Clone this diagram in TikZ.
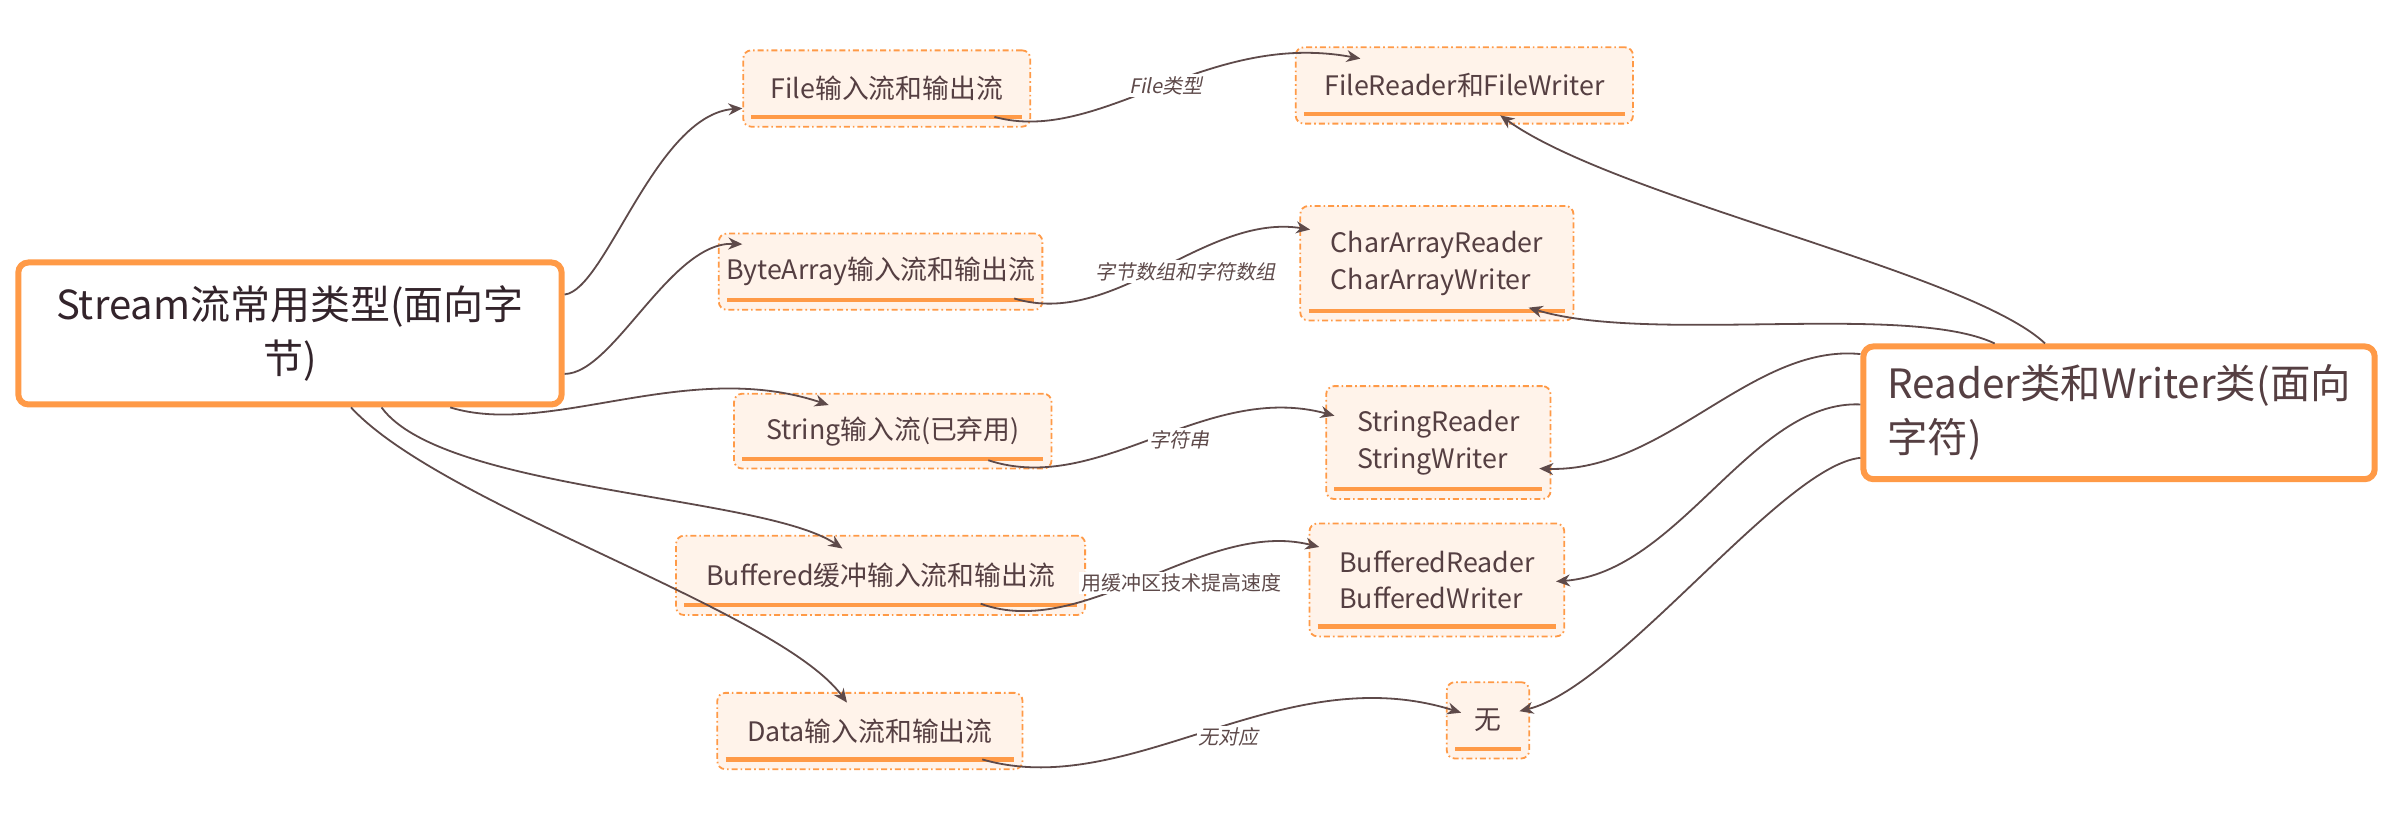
\documentclass[tikz,border=0pt]{standalone}
\usepackage{fontspec}
\setmainfont{Noto Sans CJK SC}
\newfontfamily\lblit[FakeSlant=0.2]{Noto Sans CJK SC}
\usetikzlibrary{arrows.meta}
\definecolor{org}{HTML}{FF9A47}
\definecolor{peach}{HTML}{FFF3EA}
\definecolor{lnk}{HTML}{5E4A4A}
\definecolor{txt}{HTML}{553F42}
\definecolor{dtxt}{HTML}{33242B}
\begin{document}
\begin{tikzpicture}[x=0.763pt, y=-0.763pt,
  sz/.style 2 args={minimum width=#1*0.763pt, minimum height=#2*0.763pt},
  mainbox/.style={draw=org, line width=3pt, rounded corners=5pt, fill=white, inner sep=0pt},
  childbox/.style={draw=org, line width=0.9pt, dash pattern=on 3pt off 1.5pt on 0.8pt off 1.5pt, rounded corners=4pt, fill=peach, inner sep=0pt, text=txt, font=\fontsize{13.4}{18.3}\selectfont, align=left},
  uline/.style={draw=org, line width=2.2pt},
  conn/.style={draw=lnk, line width=0.9pt, -{Stealth[length=7pt,width=6pt]}},
  lbl/.style={fill=white, inner sep=1pt, text=lnk, font=\lblit\fontsize{10}{12}\selectfont},
  lblup/.style={fill=white, inner sep=1pt, text=lnk, font=\fontsize{10}{12}\selectfont},
]
\fill[white] (0,0) rectangle (1568,540);
\useasboundingbox (0,0) rectangle (1568,540);

% main nodes
\node[mainbox, sz={356}{93}, align=center, text=dtxt, font=\fontsize{20}{27}\selectfont] (S) at (190,218.5) {Stream流常用类型(面向字\\节)};
\node[mainbox, sz={335}{87}, align=left, text=txt, font=\fontsize{20.2}{27}\selectfont] (R) at (1388.5,270.5) {Reader类和Writer类(面向\\字符)};

% child nodes
\node[childbox, sz={188}{50}] (file) at (581,58) {File输入流和输出流};
\node[childbox, sz={221}{50}] (fr) at (959.5,56) {FileReader和FileWriter};
\node[childbox, sz={212}{50}] (ba) at (577,178) {ByteArray输入流和输出流};
\node[childbox, sz={179}{75}] (ca) at (941.5,172.5) {CharArrayReader\\CharArrayWriter};
\node[childbox, sz={208}{49}] (str) at (585,282.5) {String输入流(已弃用)};
\node[childbox, sz={147}{74}] (sr) at (942.5,290) {StringReader\\StringWriter};
\node[childbox, sz={268}{52}] (buf) at (577,377) {Buffered缓冲输入流和输出流};
\node[childbox, sz={167}{74}] (br) at (941.5,380) {BufferedReader\\BufferedWriter};
\node[childbox, sz={200}{50}] (data) at (570,479) {Data输入流和输出流};
\node[childbox, sz={54}{50}] (wu) at (975,472) {无};

% underlines
\foreach \n in {file,fr,ba,ca,str,sr,buf,br,data,wu}{
  \draw[uline] ([shift={(6,-7)}]\n.south west) -- ([shift={(-6,-7)}]\n.south east);
}

% Stream edges
\draw[conn] ([shift={(0,-25.5)}]S.east) .. controls +(27,-3) and +(-57,4) .. ([shift={(0,13)}]file.west);
\draw[conn] ([shift={(0,26.5)}]S.east) .. controls +(32,0) and +(-47,-2) .. ([shift={(16,-18)}]ba.west);
\draw[conn] ([shift={(105,0)}]S.south) .. controls +(65,20) and +(-93,-31) .. ([shift={(-42,8)}]str.north);
\draw[conn] ([shift={(60,0)}]S.south) .. controls +(40,55) and +(-52,-35) .. ([shift={(-25,9)}]buf.north);
\draw[conn] ([shift={(40,0)}]S.south) .. controls +(60,65) and +(-45,-61) .. ([shift={(-15,7)}]data.north);

% Reader edges
\draw[conn] ([shift={(-48.5,0)}]R.north) .. controls +(-50,-47) and +(77,55) .. ([shift={(23.5,-6)}]fr.south);
\draw[conn] ([shift={(-81.5,0)}]R.north) .. controls +(-57,-27) and +(79,24) .. ([shift={(-30,-9)}]ca.south east);
\draw[conn] ([shift={(0,-38.5)}]R.west) .. controls +(-71,-7) and +(82,3) .. ([shift={(-8,17)}]sr.east);
\draw[conn] ([shift={(0,-5.5)}]R.west) .. controls +(-71,-3) and +(81,-6) .. ([shift={(-6,1)}]br.east);
\draw[conn] ([shift={(0,29.5)}]R.west) .. controls +(-51,5) and +(65,-16) .. ([shift={(-7,-6)}]wu.east);

% labelled edges
\draw[conn] ([shift={(-24,-7)}]file.south east) .. controls +(69,19) and +(-102,-19) .. ([shift={(43,8)}]fr.north west);
\draw[conn] ([shift={(-19,-8)}]ba.south east) .. controls +(66,20) and +(-69,-11) .. ([shift={(7,16)}]ca.north west);
\draw[conn] ([shift={(-42,-6)}]str.south east) .. controls +(73,24) and +(-85,-23) .. ([shift={(6,20)}]sr.north west);
\draw[conn] ([shift={(-69,-8)}]buf.south east) .. controls +(68,25) and +(-75,-19) .. ([shift={(7,16)}]br.north west);
\draw[conn] ([shift={(-27,-7)}]data.south east) .. controls +(97,28) and +(-118,-37) .. ([shift={(10,-5)}]wu.west);

% edge labels
\node[lbl] (l1) at (764,56) {File类型};
\node[lbl] (l2) at (777,178) {字节数组和字符数组};
\node[lbl] (l3) at (773,288) {字符串};
\node[lblup] (l4) at (774,382) {用缓冲区技术提高速度};
\node[lbl] (l5) at (805,483) {无对应};
\end{tikzpicture}
\end{document}
